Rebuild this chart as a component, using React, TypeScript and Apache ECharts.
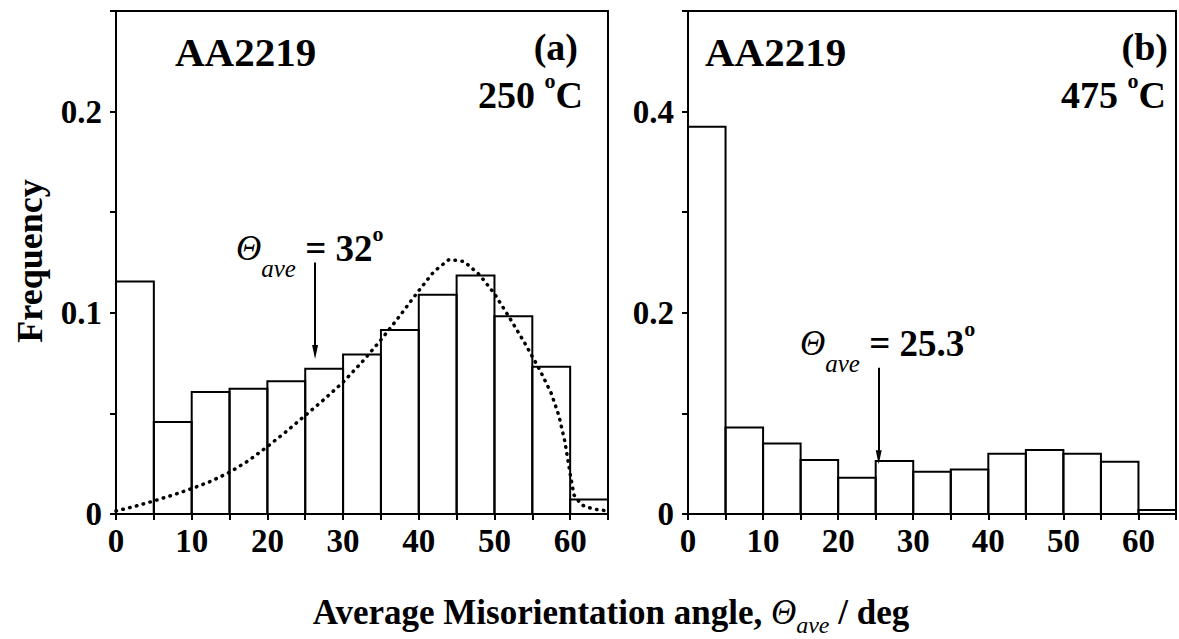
import React, { useEffect, useRef } from 'react';
import * as echarts from 'echarts';

// ---------- data ----------
const binStarts = [0, 5, 10, 15, 20, 25, 30, 35, 40, 45, 50, 55, 60];
const binWidth = 5;
// panel (a) AA2219 250 °C
const freqA = [0.1155, 0.0457, 0.0606, 0.0622, 0.066, 0.0722, 0.0793, 0.0915, 0.109, 0.1185, 0.0983, 0.0732, 0.0072];
// panel (b) AA2219 475 °C
const freqB = [0.385, 0.086, 0.07, 0.0536, 0.036, 0.0526, 0.042, 0.0443, 0.06, 0.0636, 0.06, 0.052, 0.004];
// dotted fit curve in panel (a)
const fitAngle = [0, 2.5, 5, 7.5, 10, 12.5, 15, 17.5, 20, 22.5, 25, 27.5, 30, 32.5, 35, 37.5, 40, 42, 44, 46, 48, 50, 52, 54, 56, 57.5, 58.5, 59.3, 60, 60.5, 61.5, 63, 65];
const fitFreq = [0.0015, 0.0038, 0.0065, 0.0094, 0.0126, 0.0162, 0.0207, 0.0265, 0.0335, 0.041, 0.049, 0.057, 0.0655, 0.0755, 0.0865, 0.0985, 0.111, 0.1205, 0.1265, 0.1255, 0.119, 0.1095, 0.0975, 0.085, 0.0715, 0.06, 0.049, 0.036, 0.02, 0.0095, 0.0045, 0.0025, 0.0015];
// average-angle arrows: [angle, arrow top, arrow tip]
const arrowA = [26.3, 0.125, 0.0805];
const arrowB = [25.4, 0.1455, 0.0565];
const xTickLabels = ['0', '10', '20', '30', '40', '50', '60'];

const FONT = '"Liberation Serif", "Times New Roman", serif';

type Part = { text: string; size: number; bold?: boolean; italic?: boolean; dy?: number };

function buildSeq(parts: Part[], x: number, y: number, anchor: 'left' | 'right' | 'center') {
  const ctx = document.createElement('canvas').getContext('2d')!;
  const widths = parts.map((p) => {
    ctx.font = `${p.italic ? 'italic ' : ''}${p.bold ? 'bold ' : ''}${p.size}px "Liberation Serif"`;
    return ctx.measureText(p.text).width;
  });
  const total = widths.reduce((a, b) => a + b, 0);
  let cx = anchor === 'left' ? x : anchor === 'right' ? x - total : x - total / 2;
  return parts.map((p, i) => {
    const el = {
      type: 'text',
      x: cx,
      y: y + (p.dy || 0),
      style: {
        text: p.text,
        fontSize: p.size,
        fontWeight: p.bold ? 'bold' : 'normal',
        fontStyle: p.italic ? 'italic' : 'normal',
        fontFamily: FONT,
        fill: '#000',
        align: 'left',
        verticalAlign: 'middle',
      },
    };
    cx += widths[i];
    return el;
  });
}

export default function App() {
  const ref = useRef<HTMLDivElement>(null);
  useEffect(() => {
    if (!ref.current) return;
    const chart = echarts.init(ref.current, undefined, { renderer: 'svg' });

    const histA = binStarts.map((s, i) => [s, s + binWidth, freqA[i]]);
    const histB = binStarts.map((s, i) => [s, s + binWidth, freqB[i]]);
    const fit = fitAngle.map((a, i) => [a, fitFreq[i]]);

    const renderBar = (params: any, api: any) => {
      const p0 = api.coord([api.value(0), api.value(2)]);
      const p1 = api.coord([api.value(1), 0]);
      return {
        type: 'rect',
        shape: { x: p0[0], y: p0[1], width: p1[0] - p0[0], height: p1[1] - p0[1] },
        style: { fill: 'none', stroke: '#000', lineWidth: 2 },
      };
    };

    const labelStyle = { color: '#000', fontSize: 33, fontWeight: 'bold', fontFamily: FONT };
    const mkX = (gi: number) => ({
      type: 'value',
      gridIndex: gi,
      min: 0,
      max: 65,
      interval: 5,
      axisLine: { show: true, lineStyle: { color: '#000', width: 2 } },
      axisTick: { show: true, inside: false, length: 6, lineStyle: { color: '#000', width: 2 } },
      splitLine: { show: false },
      axisLabel: {
        ...labelStyle,
        margin: 10,
        showMaxLabel: true,
        formatter: (v: number) => {
          const r = Math.round(v);
          return r % 10 === 0 && xTickLabels.includes(String(r)) ? String(r) : '';
        },
      },
    });
    const mkY = (gi: number, max: number, interval: number, fmt: (v: number) => string) => ({
      type: 'value',
      gridIndex: gi,
      min: 0,
      max,
      interval,
      axisLine: { show: true, lineStyle: { color: '#000', width: 2 } },
      axisTick: { show: true, inside: false, length: 6, lineStyle: { color: '#000', width: 2 } },
      splitLine: { show: false },
      axisLabel: { ...labelStyle, margin: 14, formatter: fmt },
    });

    const arrowSeries = (xi: number, arr: number[]) => ({
      type: 'line',
      xAxisIndex: xi,
      yAxisIndex: xi,
      data: [
        [arr[0], arr[1]],
        [arr[0], arr[2]],
      ],
      symbol: 'none',
      lineStyle: { opacity: 0 },
      silent: true,
      z: 5,
      markLine: {
        silent: true,
        symbol: ['none', 'triangle'],
        symbolSize: [6, 14],
        label: { show: false },
        lineStyle: { color: '#000', width: 2, type: 'solid' },
        data: [[{ coord: [arr[0], arr[1]] }, { coord: [arr[0], arr[2]] }]],
      },
    });

    const graphics: any[] = [
      // panel (a)
      ...buildSeq([{ text: 'AA2219', size: 41, bold: true }], 175, 52, 'left'),
      ...buildSeq([{ text: '(a)', size: 38, bold: true }], 578, 47, 'right'),
      ...buildSeq(
        [
          { text: '250 ', size: 38, bold: true },
          { text: 'o', size: 22, bold: true, dy: -15 },
          { text: 'C', size: 38, bold: true },
        ],
        583,
        95,
        'right'
      ),
      ...buildSeq(
        [
          { text: 'Θ', size: 35, italic: true },
          { text: 'ave', size: 25, italic: true, dy: 20 },
          { text: ' = 32', size: 37, bold: true },
          { text: 'o', size: 22, bold: true, dy: -15 },
        ],
        236,
        248,
        'left'
      ),
      // panel (b)
      ...buildSeq([{ text: 'AA2219', size: 41, bold: true }], 705, 52, 'left'),
      ...buildSeq([{ text: '(b)', size: 38, bold: true }], 1168, 47, 'right'),
      ...buildSeq(
        [
          { text: '475 ', size: 38, bold: true },
          { text: 'o', size: 22, bold: true, dy: -15 },
          { text: 'C', size: 38, bold: true },
        ],
        1166,
        95,
        'right'
      ),
      ...buildSeq(
        [
          { text: 'Θ', size: 35, italic: true },
          { text: 'ave', size: 25, italic: true, dy: 20 },
          { text: ' = 25.3', size: 37, bold: true },
          { text: 'o', size: 22, bold: true, dy: -15 },
        ],
        800,
        343,
        'left'
      ),
      // axis titles
      ...buildSeq(
        [
          { text: 'Average Misorientation angle, ', size: 35, bold: true },
          { text: 'Θ', size: 35, italic: true },
          { text: 'ave', size: 24, italic: true, dy: 13 },
          { text: ' / deg', size: 35, bold: true },
        ],
        611,
        612,
        'center'
      ),
      {
        type: 'text',
        x: 30,
        y: 261,
        rotation: Math.PI / 2,
        style: {
          text: 'Frequency',
          fontSize: 36,
          fontWeight: 'bold',
          fontFamily: FONT,
          fill: '#000',
          align: 'center',
          verticalAlign: 'middle',
        },
      },
    ];

    chart.setOption({
      animation: false,
      backgroundColor: '#fff',
      grid: [
        { left: 116, top: 11, width: 492, height: 503, show: true, borderColor: '#000', borderWidth: 2, backgroundColor: 'transparent' },
        { left: 688, top: 11, width: 489, height: 503, show: true, borderColor: '#000', borderWidth: 2, backgroundColor: 'transparent' },
      ],
      xAxis: [mkX(0), mkX(1)],
      yAxis: [
        mkY(0, 0.25, 0.05, (v: number) => {
          const r = Math.round(v * 100);
          if (r === 0) return '0';
          return r % 10 === 0 ? (r / 100).toFixed(1) : '';
        }),
        mkY(1, 0.5, 0.1, (v: number) => {
          const r = Math.round(v * 10);
          if (r === 0) return '0';
          return r % 2 === 0 ? (r / 10).toFixed(1) : '';
        }),
      ],
      series: [
        {
          type: 'custom',
          xAxisIndex: 0,
          yAxisIndex: 0,
          renderItem: renderBar,
          encode: { x: [0, 1], y: 2 },
          data: histA,
          z: 2,
        },
        {
          type: 'custom',
          xAxisIndex: 1,
          yAxisIndex: 1,
          renderItem: renderBar,
          encode: { x: [0, 1], y: 2 },
          data: histB,
          z: 2,
        },
        {
          type: 'line',
          xAxisIndex: 0,
          yAxisIndex: 0,
          data: fit,
          symbol: 'none',
          smooth: false,
          lineStyle: { color: '#000', width: 3.5, type: [0.5, 6.5], cap: 'round' },
          z: 4,
        },
        arrowSeries(0, arrowA),
        arrowSeries(1, arrowB),
      ],
      graphic: graphics,
    });
    return () => chart.dispose();
  }, []);
  return (
    <div
      ref={ref}
      style={{ position: 'absolute', left: 0, top: 0, width: 1179, height: 639, background: '#fff' }}
    />
  );
}
